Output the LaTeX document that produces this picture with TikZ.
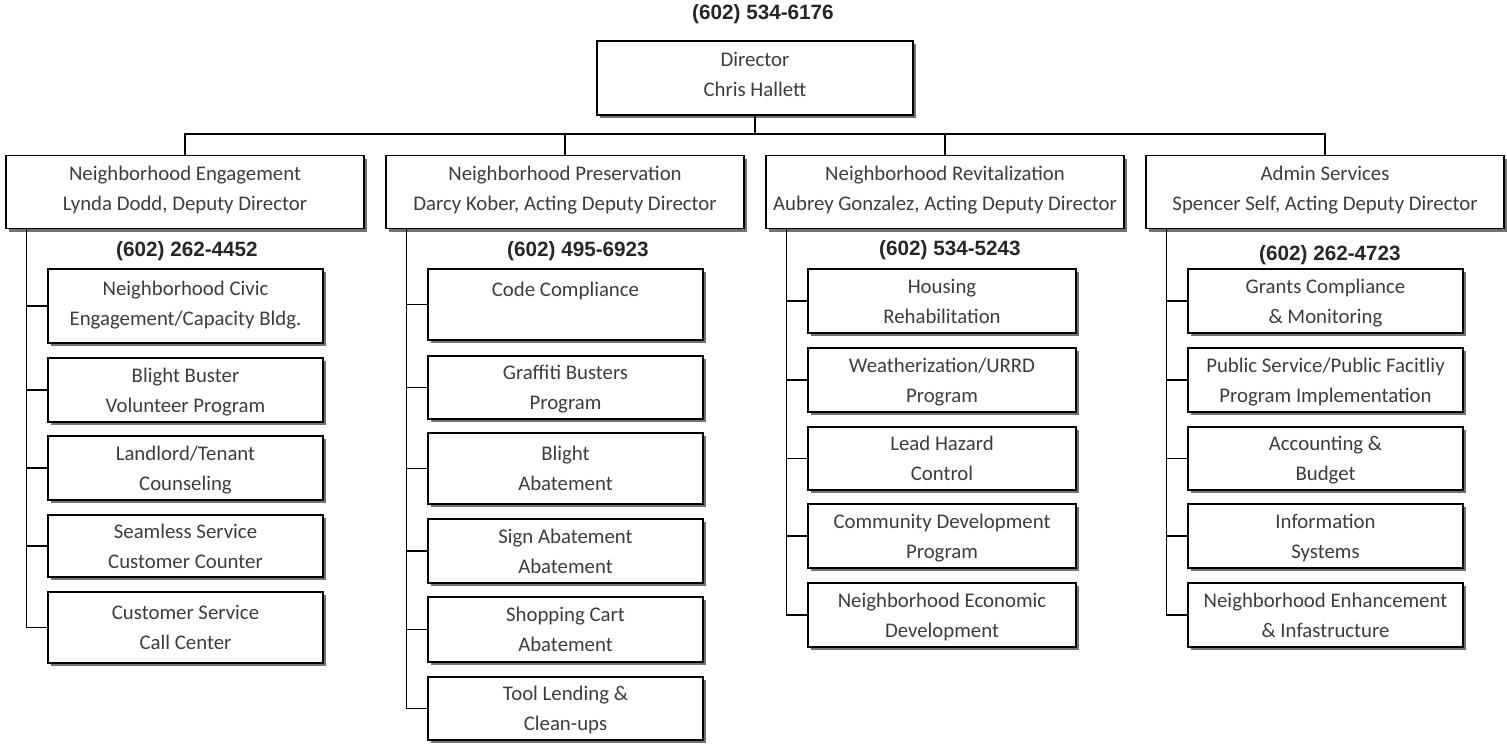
\documentclass[tikz,border=0pt]{standalone}
\usepackage{fontspec}
\setmainfont{Carlito}
\newfontfamily\phonefont{Liberation Sans}
\usetikzlibrary{positioning,shadows}

\tikzset{
  unit/.style={draw, line width=1.2pt, fill=white, align=center, inner sep=0pt,
    text=black!76, font=\fontsize{20.8}{30}\selectfont, text depth=0pt,
    drop shadow={shadow xshift=3pt, shadow yshift=-3pt, fill=black!55, opacity=1}},
  head/.style={unit, minimum width=358pt, minimum height=73pt, text depth=8pt},
  task/.style={unit, minimum width=275pt},
  narrowtask/.style={unit, minimum width=268pt},
  phone/.style={font=\phonefont\bfseries\fontsize{20.7}{24}\selectfont, text=black!85},
  link/.style={line width=1.2pt},
}

\begin{document}
\begin{tikzpicture}[x=1pt, y=-1pt]
    \useasboundingbox (0,0) rectangle (1507,745);

    % TOP: Director
    \node[phone] (phdir) at (763,14) {(602) 534-6176};
    \node[unit, minimum width=316pt, minimum height=74pt, text depth=8pt] (dir) at (755,78) {Director\\Chris Hallett};

    % MIDDLE: Deputy directors
    \node[head] (ne) at (185,192) {Neighborhood Engagement\\Lynda Dodd, Deputy Director};
    \node[head] (np) at (565,192) {Neighborhood Preservation\\Darcy Kober, Acting Deputy Director};
    \node[head] (nr) at (945,192) {Neighborhood Revitalization\\Aubrey Gonzalez, Acting Deputy Director};
    \node[head] (as) at (1325,192) {Admin Services\\Spencer Self, Acting Deputy Director};

    \node[phone] (phne) at (187,251) {(602) 262-4452};
    \node[phone] (phnp) at (578,251) {(602) 495-6923};
    \node[phone] (phnr) at (950,250) {(602) 534-5243};
    \node[phone] (phas) at (1330,255) {(602) 262-4723};

    % Engagement units
    \node[task, minimum height=74pt, text depth=6pt] (ne1) at (185.5,306) {Neighborhood Civic\\Engagement/Capacity Bldg.};
    \node[task, minimum height=64pt] (ne2) at (185.5,390) {Blight Buster\\Volunteer Program};
    \node[task, minimum height=64pt] (ne3) at (185.5,468) {Landlord/Tenant\\Counseling};
    \node[task, minimum height=62pt] (ne4) at (185.5,546) {Seamless Service\\Customer Counter};
    \node[task, minimum height=71pt] (ne5) at (185.5,627.5) {Customer Service\\Call Center};

    % Preservation units
    \node[task, minimum height=71pt] (np1) at (565.5,304.5) {Code Compliance\\\mbox{}};
    \node[task, minimum height=63pt] (np2) at (565.5,387.5) {Graffiti Busters\\Program};
    \node[task, minimum height=71pt] (np3) at (565.5,468.5) {Blight\\Abatement};
    \node[task, minimum height=64pt] (np4) at (565.5,551) {Sign Abatement\\Abatement};
    \node[task, minimum height=65pt] (np5) at (565.5,629.5) {Shopping Cart\\Abatement};
    \node[task, minimum height=63pt] (np6) at (565.5,708.5) {Tool Lending \&\\Clean-ups};

    % Revitalization units
    \node[narrowtask, minimum height=64pt] (nr1) at (942,301) {Housing\\Rehabilitation};
    \node[narrowtask, minimum height=64pt] (nr2) at (942,380) {Weatherization/URRD\\Program};
    \node[narrowtask, minimum height=63pt] (nr3) at (942,458.5) {Lead Hazard\\Control};
    \node[narrowtask, minimum height=64pt] (nr4) at (942,536) {Community Development\\Program};
    \node[narrowtask, minimum height=64pt] (nr5) at (942,615) {Neighborhood Economic\\Development};

    % Admin units
    \node[task, minimum height=64pt] (as1) at (1325.5,301) {Grants Compliance\\\& Monitoring};
    \node[task, minimum height=64pt] (as2) at (1325.5,380) {Public Service/Public Facitliy\\Program Implementation};
    \node[task, minimum height=63pt] (as3) at (1325.5,458.5) {Accounting \&\\Budget};
    \node[task, minimum height=64pt] (as4) at (1325.5,536) {Information\\Systems};
    \node[task, minimum height=64pt] (as5) at (1325.5,615) {Neighborhood Enhancement\\\& Infastructure};

    % Bus from director
    \coordinate (bus) at (755,134);
    \draw[link] (dir.south) -- (bus);
    \draw[link] (ne.north) |- (bus) -| (as.north);
    \draw[link] (np.north) -- (np.north |- bus);
    \draw[link] (nr.north) -- (nr.north |- bus);

    % Spines
    \coordinate (neS) at ([xshift=21pt]ne.south west);
    \coordinate (npS) at ([xshift=21pt]np.south west);
    \coordinate (nrS) at ([xshift=21pt]nr.south west);
    \coordinate (asS) at ([xshift=21pt]as.south west);
    \draw[link] (neS) |- (ne5.west)
        (ne1.west) -- (ne1.west -| neS) (ne2.west) -- (ne2.west -| neS)
        (ne3.west) -- (ne3.west -| neS) (ne4.west) -- (ne4.west -| neS);
    \draw[link] (npS) |- (np6.west)
        (np1.west) -- (np1.west -| npS) (np2.west) -- (np2.west -| npS)
        (np3.west) -- (np3.west -| npS) (np4.west) -- (np4.west -| npS)
        (np5.west) -- (np5.west -| npS);
    \draw[link] (nrS) |- (nr5.west)
        (nr1.west) -- (nr1.west -| nrS) (nr2.west) -- (nr2.west -| nrS)
        (nr3.west) -- (nr3.west -| nrS) (nr4.west) -- (nr4.west -| nrS);
    \draw[link] (asS) |- (as5.west)
        (as1.west) -- (as1.west -| asS) (as2.west) -- (as2.west -| asS)
        (as3.west) -- (as3.west -| asS) (as4.west) -- (as4.west -| asS);

\end{tikzpicture}
\end{document}
